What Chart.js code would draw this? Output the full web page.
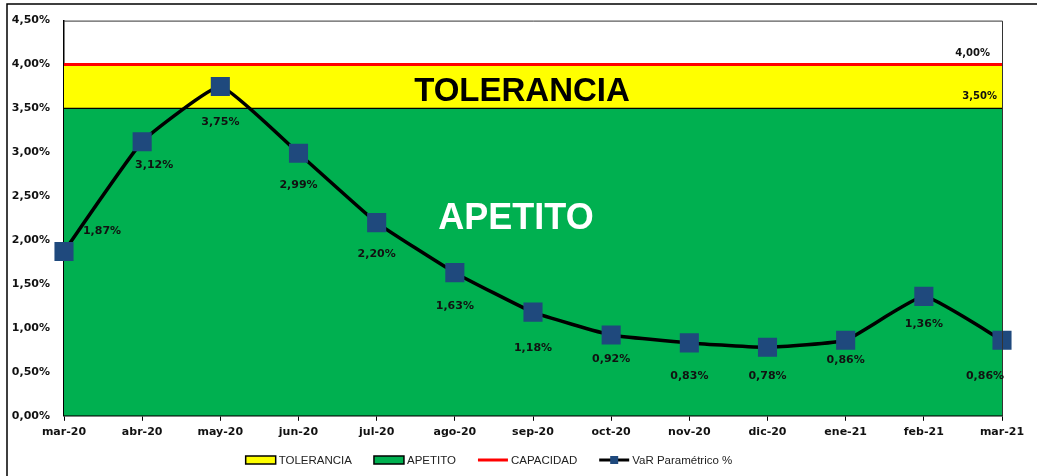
<!DOCTYPE html>
<html>
<head>
<meta charset="utf-8">
<script src="https://cdn.jsdelivr.net/npm/chart.js@4"></script>
<style>
  html, body { margin: 0; padding: 0; background: #fff; }
  #wrap { width: 1037px; height: 476px; }
</style>
</head>
<body>
<div id="wrap"><canvas id="chart" width="1037" height="476"></canvas></div>
<script>
// data
const months = ['mar-20', 'abr-20', 'may-20', 'jun-20', 'jul-20', 'ago-20', 'sep-20',
  'oct-20', 'nov-20', 'dic-20', 'ene-21', 'feb-21', 'mar-21'];
const varParametrico = [1.87, 3.12, 3.75, 2.99, 2.20, 1.63, 1.18, 0.92, 0.83, 0.78, 0.86, 1.36, 0.86];
const apetitoLimit = 3.5;
const toleranciaLimit = 4.0;
const capacidadLimit = 4.0;
const yMax = 4.5;
const yStep = 0.5;

// label nudges (px) for the VaR data labels
const labelOffsets = [[38, -20], [12, 23], [0, 36], [0, 32], [0, 32], [0, 33], [0, 36],
  [0, 24], [0, 33], [0, 29], [0, 20], [0, 28], [-17, 36]];

const GREEN = '#00B050';
const YELLOW = '#FFFF00';
const RED = '#FF0000';
const NAVY = '#1F497D';
const TICK_FONT = 'bold 11px "DejaVu Sans"';

const pct = v => v.toFixed(2).replace('.', ',') + '%';
const flat = v => months.map(() => v);

// labels, zone names, borders, legend
const decorPlugin = {
  id: 'decor',
  afterDatasetsDraw(chart) {
    const { ctx, chartArea: a, scales: { x, y } } = chart;
    ctx.save();
    // plot frame (top + right)
    ctx.strokeStyle = '#333';
    ctx.lineWidth = 1;
    ctx.beginPath();
    ctx.moveTo(a.left, a.top + 0.5);
    ctx.lineTo(a.right + 0.5, a.top + 0.5);
    ctx.lineTo(a.right + 0.5, a.bottom);
    ctx.stroke();

    // zone names
    ctx.textAlign = 'center';
    ctx.textBaseline = 'middle';
    ctx.fillStyle = '#000';
    ctx.font = 'bold 33px "Liberation Sans"';
    ctx.fillText('TOLERANCIA', (a.left + a.right) / 2 - 11, y.getPixelForValue((apetitoLimit + toleranciaLimit) / 2) + 5);
    ctx.fillStyle = '#fff';
    ctx.font = 'bold 36px "Liberation Sans"';
    ctx.fillText('APETITO', (a.left + a.right) / 2 - 17, y.getPixelForValue(2.24));

    // limit labels
    ctx.fillStyle = '#111';
    ctx.font = 'bold 10px "DejaVu Sans"';
    ctx.textAlign = 'right';
    ctx.fillText(pct(capacidadLimit), a.right - 12, y.getPixelForValue(capacidadLimit) - 11);
    ctx.fillText(pct(apetitoLimit), a.right - 5, y.getPixelForValue(apetitoLimit) - 12);

    // VaR data labels
    const meta = chart.getDatasetMeta(3);
    ctx.textAlign = 'center';
    ctx.font = TICK_FONT;
    ctx.fillStyle = '#111';
    meta.data.forEach((pt, i) => {
      const [dx, dy] = labelOffsets[i];
      ctx.fillText(pct(varParametrico[i]), pt.x + dx, pt.y + dy);
    });
    ctx.restore();
  },
  afterDraw(chart) {
    const { ctx } = chart;
    ctx.save();
    // outer frame
    ctx.strokeStyle = '#000';
    ctx.lineWidth = 1.5;
    ctx.beginPath();
    ctx.moveTo(7, 476);
    ctx.lineTo(7, 4);
    ctx.lineTo(1037, 4);
    ctx.stroke();

    // legend
    const items = [
      { text: 'TOLERANCIA', kind: 'box', color: YELLOW },
      { text: 'APETITO', kind: 'box', color: GREEN },
      { text: 'CAPACIDAD', kind: 'line', color: RED },
      { text: 'VaR Paramétrico %', kind: 'marker', color: '#000' }
    ];
    ctx.font = '11.5px "Liberation Sans"';
    const iconW = 30, gapIcon = 3, gapItem = 22;
    const widths = items.map(it => iconW + gapIcon + ctx.measureText(it.text).width);
    const total = widths.reduce((s, w) => s + w, 0) + gapItem * (items.length - 1);
    let xPos = 489 - total / 2;
    const yc = 460;
    items.forEach((it, i) => {
      if (it.kind === 'box') {
        ctx.fillStyle = it.color;
        ctx.fillRect(xPos, yc - 4, iconW, 8);
        ctx.strokeStyle = '#000';
        ctx.lineWidth = 1.5;
        ctx.strokeRect(xPos, yc - 4, iconW, 8);
      } else {
        ctx.strokeStyle = it.color;
        ctx.lineWidth = 3;
        ctx.beginPath();
        ctx.moveTo(xPos, yc);
        ctx.lineTo(xPos + iconW, yc);
        ctx.stroke();
        if (it.kind === 'marker') {
          ctx.fillStyle = NAVY;
          ctx.fillRect(xPos + iconW / 2 - 4, yc - 4, 8, 8);
        }
      }
      ctx.fillStyle = '#222';
      ctx.textAlign = 'left';
      ctx.textBaseline = 'middle';
      ctx.fillText(it.text, xPos + iconW + gapIcon, yc + 1);
      xPos += widths[i] + gapItem;
    });
    ctx.restore();
  }
};

new Chart(document.getElementById('chart'), {
  type: 'line',
  data: {
    labels: months,
    datasets: [
      {
        label: 'TOLERANCIA',
        data: flat(toleranciaLimit),
        borderColor: YELLOW,
        borderWidth: 0,
        backgroundColor: YELLOW,
        fill: { value: apetitoLimit },
        pointRadius: 0,
        order: 3
      },
      {
        label: 'APETITO',
        data: flat(apetitoLimit),
        borderColor: '#000',
        borderWidth: 1.2,
        backgroundColor: GREEN,
        fill: 'origin',
        pointRadius: 0,
        order: 2
      },
      {
        label: 'CAPACIDAD',
        data: flat(capacidadLimit),
        borderColor: RED,
        borderWidth: 3,
        fill: false,
        pointRadius: 0,
        order: 1
      },
      {
        label: 'VaR Paramétrico %',
        data: varParametrico,
        borderColor: '#000',
        borderWidth: 3.5,
        tension: 0.12,
        fill: false,
        pointStyle: 'rect',
        pointRadius: 13.5,
        pointBackgroundColor: NAVY,
        pointBorderColor: NAVY,
        pointBorderWidth: 0,
        order: 0
      }
    ]
  },
  options: {
    responsive: false,
    animation: false,
    layout: { padding: { left: 7, top: 20, right: 35, bottom: 32 } },
    plugins: {
      legend: { display: false },
      tooltip: { enabled: false }
    },
    scales: {
      x: {
        offset: false,
        grid: { display: true, drawOnChartArea: false, drawTicks: true, tickLength: 5, color: '#000' },
        border: { display: true, color: '#000', width: 1.5 },
        ticks: { font: { family: 'DejaVu Sans', size: 11, weight: 'bold' }, color: '#111',
          maxRotation: 0, autoSkip: false, padding: 5 }
      },
      y: {
        min: 0,
        max: yMax,
        afterFit(scale) { scale.width = 57; },
        grid: { display: false, drawTicks: false },
        border: { display: true, color: '#000', width: 1.5 },
        ticks: { stepSize: yStep, callback: v => pct(v), padding: 14,
          font: { family: 'DejaVu Sans', size: 11, weight: 'bold' }, color: '#111' }
      }
    }
  },
  plugins: [decorPlugin]
});
</script>
</body>
</html>
